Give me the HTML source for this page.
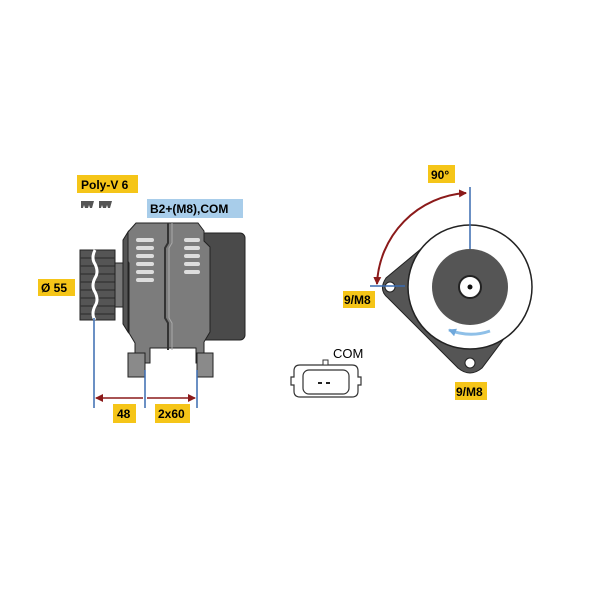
<!DOCTYPE html>
<html><head><style>body{margin:0;background:#fff}svg{display:block}text{font-family:"Liberation Sans",sans-serif;font-weight:bold;font-size:12px}</style></head>
<body>
<svg width="600" height="600" viewBox="0 0 600 600" xmlns="http://www.w3.org/2000/svg">
<defs>
<marker id="ar" markerWidth="8" markerHeight="8" refX="7" refY="4" orient="auto-start-reverse" markerUnits="userSpaceOnUse"><path d="M0,0 L8,4 L0,8 z" fill="#8b1a1a"/></marker>
<marker id="ab" markerWidth="8" markerHeight="8" refX="7" refY="4" orient="auto" markerUnits="userSpaceOnUse"><path d="M0,0 L8,4 L0,8 z" fill="#6fa8dc"/></marker>
</defs>
<rect x="77" y="175" width="61" height="18" fill="#f5c518"/><text x="81" y="189">Poly-V 6</text>
<path d="M81,201 h13 l-2,7 h-2 l-1,-3 l-1,3 h-3 l-1,-3 l-1,3 h-2z M99,201 h13 l-2,7 h-2 l-1,-3 l-1,3 h-3 l-1,-3 l-1,3 h-2z" fill="#555"/>
<rect x="147" y="199" width="96" height="19" fill="#a8cdea"/><text x="150" y="213">B2+(M8),COM</text>
<rect x="38" y="279" width="37" height="17" fill="#f5c518"/><text x="41" y="292">Ø 55</text>
<path d="M80,250 h35 v70 h-35 z" fill="#555" stroke="#222"/>
<path d="M80,258h35M80,266h35M80,274h35M80,282h35M80,290h35M80,298h35M80,306h35M80,314h35" stroke="#333" stroke-width="1.2"/>
<path d="M95,250 q-4,8 0,14 q4,8 0,14 q-4,8 0,14 q4,8 0,14 q-4,8 0,14" stroke="#fff" stroke-width="3" fill="none"/>
<rect x="115" y="263" width="9" height="44" fill="#777" stroke="#222"/>
<rect x="200" y="233" width="45" height="107" rx="5" fill="#4a4a4a" stroke="#222"/>
<path d="M128,232 l8,-9 h62 l6,8 v10 l6,6 v85 l-6,10 v21 h-8 v-15 h-46 v15 h-15 v-20 l-6,-10 v-70 l-6,-10z" fill="#7c7c7c" stroke="#222"/>
<path d="M123,240 l5,-8 v100 l-5,-8z" fill="#555" stroke="#222"/>
<path d="M168,223 v20 l-3,5 v70 l3,5 v27" stroke="#333" stroke-width="2" fill="none"/>
<path d="M172,223 v20 l-3,5 v70 l3,5 v27" stroke="#aaa" stroke-width="1" fill="none"/>
<g fill="#ddd">
<rect x="136" y="238" width="18" height="4" rx="2"/><rect x="136" y="246" width="18" height="4" rx="2"/><rect x="136" y="254" width="18" height="4" rx="2"/><rect x="136" y="262" width="18" height="4" rx="2"/><rect x="136" y="270" width="18" height="4" rx="2"/><rect x="136" y="278" width="18" height="4" rx="2"/>
<rect x="184" y="238" width="16" height="4" rx="2"/><rect x="184" y="246" width="16" height="4" rx="2"/><rect x="184" y="254" width="16" height="4" rx="2"/><rect x="184" y="262" width="16" height="4" rx="2"/><rect x="184" y="270" width="16" height="4" rx="2"/>
</g>
<rect x="128" y="353" width="17" height="24" fill="#8a8a8a" stroke="#222"/>
<rect x="197" y="353" width="16" height="24" fill="#8a8a8a" stroke="#222"/>
<path d="M94,318 V408 M145,370 V408 M197,370 V408" stroke="#3a6bb0" stroke-width="1.5"/>
<path d="M96,398 H143 M147,398 H195" stroke="#8b1a1a" stroke-width="1.5" marker-end="url(#ar)" marker-start="url(#ar)"/>
<rect x="113" y="404" width="23" height="19" fill="#f5c518"/><text x="117" y="418">48</text>
<rect x="155" y="404" width="35" height="19" fill="#f5c518"/><text x="158" y="418">2x60</text>
<!-- right view -->
<path d="M428,243 L386,278 Q378,290 388,298 L458,368 Q470,378 482,368 L506,336 z" fill="#555" stroke="#222"/>
<circle cx="390" cy="287" r="5" fill="#fff" stroke="#222"/>
<circle cx="470" cy="363" r="5" fill="#fff" stroke="#222"/>
<circle cx="470" cy="287" r="62" fill="#fff" stroke="#222" stroke-width="1.5"/>
<circle cx="470" cy="287" r="38" fill="#555"/>
<circle cx="470" cy="287" r="11" fill="#fff" stroke="#222" stroke-width="2"/>
<circle cx="470" cy="287" r="2.5" fill="#111"/>
<path d="M490,331 Q470,338 449,330" stroke="#8fc0e8" stroke-width="3" fill="none" marker-end="url(#ab)"/>
<path d="M470,187 V249 M370,286 H405" stroke="#3a6bb0" stroke-width="1.5"/>
<path d="M377,284 A95,95 0 0 1 466,193" stroke="#8b1a1a" stroke-width="2" fill="none" marker-start="url(#ar)" marker-end="url(#ar)"/>
<rect x="428" y="165" width="27" height="18" fill="#f5c518"/><text x="431" y="179">90°</text>
<rect x="343" y="291" width="32" height="17" fill="#f5c518"/><text x="344" y="304">9/M8</text>
<rect x="455" y="382" width="32" height="18" fill="#f5c518"/><text x="456" y="396">9/M8</text>
<path d="M300,365 h52 q6,0 6,6 v6 h3 v8 h-3 v6 q0,6 -6,6 h-52 q-6,0 -6,-6 v-6 h-3 v-8 h3 v-6 q0,-6 6,-6z" fill="#fff" stroke="#333" stroke-width="1.2"/>
<rect x="303" y="370" width="46" height="24" rx="6" fill="none" stroke="#333" stroke-width="1.2"/>
<rect x="323" y="360" width="5" height="5" fill="#fff" stroke="#333"/>
<path d="M318,383h4M326,383h4" stroke="#222" stroke-width="2"/>
<text x="333" y="358" style="font-weight:normal;font-size:13px">COM</text>
</svg>
</body></html>
